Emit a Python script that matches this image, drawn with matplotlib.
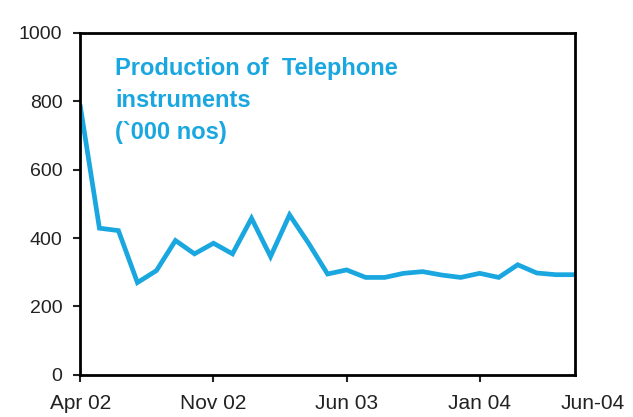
import numpy as np
import matplotlib.pyplot as plt

plt.rcParams['font.family'] = ['Liberation Sans', 'DejaVu Sans']

# monthly production, Apr 02 .. Jun 04 ('000 nos)
values = [784, 429, 422, 270, 305, 393, 354, 385, 354, 458, 346, 468, 385, 295,
          307, 285, 285, 297, 302, 292, 285, 297, 285, 322, 298, 293, 293]
months = np.arange(len(values))
tick_pos = [0, 7, 14, 21]
tick_labels = ['Apr 02', 'Nov 02', 'Jun 03', 'Jan 04']
y_ticks = [0, 200, 400, 600, 800, 1000]

blue = '#1AA7E0'

fig = plt.figure(figsize=(6.33, 4.17), dpi=100)
ax = fig.add_axes([0.127, 0.101, 0.781, 0.820])

ax.plot(months, values, color=blue, lw=3.4, solid_joinstyle='miter')

ax.set_xlim(0, 26)
ax.set_ylim(0, 1000)
ax.set_xticks(tick_pos)
ax.set_xticklabels(tick_labels)
ax.set_yticks(y_ticks)
ax.tick_params(width=1.5, length=5, direction='out', colors='#222222')
ax.tick_params(axis='y', labelsize=14, pad=8)
ax.tick_params(axis='x', labelsize=15, pad=9)
for s in ax.spines.values():
    s.set_linewidth(2)

# last label sits past the right spine
ax.text(1.036, -0.057, 'Jun-04', transform=ax.transAxes, fontsize=15,
        color='#222222', ha='center', va='top', clip_on=False)

ax.text(0.071, 0.93, 'Production of  Telephone\ninstruments\n(`000 nos)', transform=ax.transAxes,
        color=blue, fontsize=17, fontweight='bold', va='top', ha='left', linespacing=1.5)

fig.savefig('out.png', dpi=100)
